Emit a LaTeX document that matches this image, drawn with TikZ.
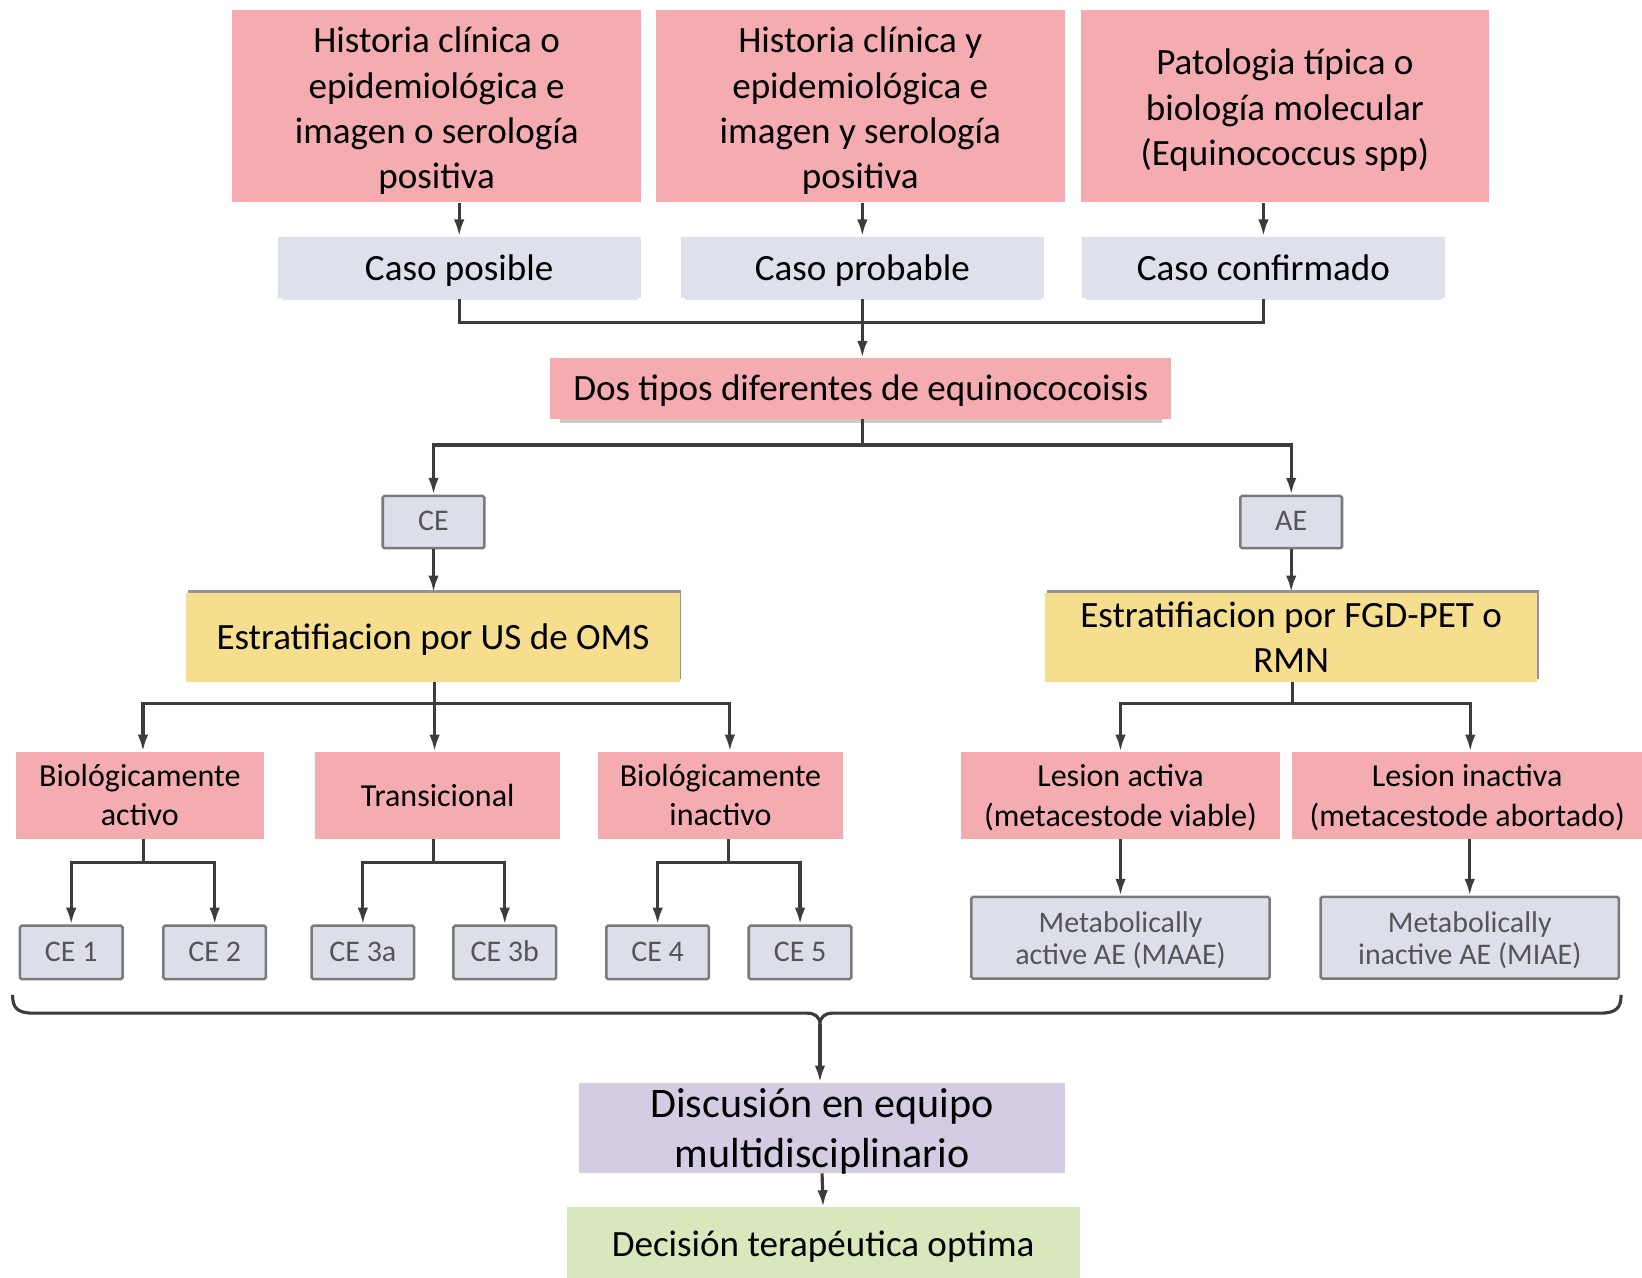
\documentclass[tikz,border=0pt]{standalone}
\usepackage{fontspec}
\setmainfont{Carlito}
\usetikzlibrary{arrows.meta,shadows}

\definecolor{rosa}{HTML}{F4ACB0}
\definecolor{celeste}{HTML}{DEE1EC}
\definecolor{amarillo}{HTML}{F5DE8E}
\definecolor{lila}{HTML}{D3CCE3}
\definecolor{verde}{HTML}{D8E7BC}
\definecolor{linea}{HTML}{3C3C3C}
\definecolor{borde}{HTML}{7A7A7A}
\definecolor{cajagris}{HTML}{DCDFEA}
\definecolor{textogris}{HTML}{555555}

% Text lines as a one-column tabular, one \baselineskip per line;
% the extra height #1 given to the first row lowers the text by half of it.
% (The strut height is measured outside the tabular, where \baselineskip is still set.)
\newlength\altopuntal
\newcommand\lineas[2]{\setlength\altopuntal{\dimexpr0.7\baselineskip+#1\relax}%
  \begin{tabular}{@{}c@{}}\rule{0pt}{\altopuntal}#2\end{tabular}}

\tikzset{
  % negative vertical padding: the box size comes from minimum height alone
  caja/.style={inner xsep=0pt, inner ysep=-30pt, text=black},
  grande/.style={font=\fontsize{17.7}{21.5}\selectfont},
  mediana/.style={font=\fontsize{15.3}{19}\selectfont},
  rosabox/.style={caja, fill=rosa},
  estadiobox/.style={rosabox, mediana,
    drop shadow={shadow xshift=0pt, shadow yshift=-1.2pt, shadow scale=0.95, fill=black!18, opacity=0.6}},
  casobox/.style={caja, grande, fill=celeste,
    drop shadow={shadow xshift=0.3pt, shadow yshift=-1pt, shadow scale=0.98, fill=black!20, opacity=0.5}},
  tipobox/.style={caja, draw=borde, line width=1.2pt, rounded corners=0.8pt, fill=cajagris,
    text=textogris, font=\fontsize{14.3}{15.5}\selectfont},
  estrbox/.style={caja, grande, fill=amarillo,
    drop shadow={shadow xshift=0.8pt, shadow yshift=1.4pt, fill=black!60, opacity=0.7}},
  linea/.style={draw=linea, line width=1.5pt},
  flecha/.style={linea, -{Latex[length=8pt,width=5pt]}},
}

\begin{document}
\begin{tikzpicture}[x=0.5pt,y=-0.5pt]
\useasboundingbox (0,0) rectangle (1568,1220);

% Criterios diagnósticos
\node[rosabox, grande, minimum width=195pt, minimum height=91.5pt] (b1) at (417,101.5)
  {\lineas{5pt}{Historia clínica o\\epidemiológica e\\imagen o serología\\positiva}};
\node[rosabox, grande, minimum width=195.5pt, minimum height=91.5pt] (b2) at (821.5,101.5)
  {\lineas{5pt}{Historia clínica y\\epidemiológica e\\imagen y serología\\positiva}};
\node[rosabox, grande, minimum width=195pt, minimum height=91.5pt] (b3) at (1227,101.5)
  {\lineas{4.5pt}{Patologia típica o\\biología molecular\\(Equinococcus spp)}};

% Clasificación del caso
\node[casobox, minimum width=173.5pt, minimum height=29.5pt] (c1) at (438.5,255.5)
  {\lineas{3.5pt}{Caso posible}};
\node[casobox, minimum width=173.5pt, minimum height=29.5pt] (c2) at (823.5,255.5)
  {\lineas{3.5pt}{Caso probable}};
\node[casobox, minimum width=173.5pt, minimum height=29.5pt] (c3) at (1206.5,255.5)
  {\lineas{3.5pt}{Caso confirmado}};

\node[rosabox, grande, minimum width=296.5pt, minimum height=29pt,
  drop shadow={shadow xshift=0pt, shadow yshift=-2.5pt, shadow scale=0.97, fill=black!35, opacity=0.6}]
  (d) at (822,371) {\lineas{2.5pt}{Dos tipos diferentes de equinococoisis}};

% Tipos
\node[tipobox, minimum width=48.5pt, minimum height=25pt] (ce) at (414,498.5) {\lineas{2pt}{CE}};
\node[tipobox, minimum width=48.5pt, minimum height=25pt] (ae) at (1233,498.5) {\lineas{2pt}{AE}};

\node[estrbox, minimum width=235.5pt, minimum height=42.5pt] (e1) at (413.5,608.5)
  {\lineas{3.5pt}{Estratifiacion por US de OMS}};
\node[estrbox, minimum width=235pt, minimum height=42.5pt] (e2) at (1233,608.5)
  {\lineas{4pt}{Estratifiacion por FGD-PET o\\RMN}};

% Estadios
\node[estadiobox, minimum width=118.5pt, minimum height=41.5pt] (p1) at (133.5,759.5)
  {\lineas{2.5pt}{Biológicamente\\activo}};
\node[estadiobox, minimum width=117pt, minimum height=41.5pt] (p2) at (418,759.5)
  {\lineas{3pt}{Transicional}};
\node[estadiobox, minimum width=117pt, minimum height=41.5pt] (p3) at (688,759.5)
  {\lineas{2.5pt}{Biológicamente\\inactivo}};
\node[estadiobox, minimum width=152pt, minimum height=41.5pt] (p4) at (1070,759.5)
  {\lineas{3pt}{Lesion activa\\(metacestode viable)}};
\node[estadiobox, minimum width=167pt, minimum height=41.5pt] (p5) at (1401,759.5)
  {\lineas{3pt}{Lesion inactiva\\(metacestode abortado)}};

% Subtipos
\node[tipobox, minimum width=49pt, minimum height=25.5pt] (ce1) at (68,909.5) {\lineas{2pt}{CE 1}};
\node[tipobox, minimum width=49pt, minimum height=25.5pt] (ce2) at (205,909.5) {\lineas{2pt}{CE 2}};
\node[tipobox, minimum width=49pt, minimum height=25.5pt] (ce3a) at (346.5,909.5) {\lineas{2pt}{CE 3a}};
\node[tipobox, minimum width=49pt, minimum height=25.5pt] (ce3b) at (482,909.5) {\lineas{2pt}{CE 3b}};
\node[tipobox, minimum width=49pt, minimum height=25.5pt] (ce4) at (628,909.5) {\lineas{2pt}{CE 4}};
\node[tipobox, minimum width=49pt, minimum height=25.5pt] (ce5) at (764,909.5) {\lineas{2pt}{CE 5}};
\node[tipobox, minimum width=142.5pt, minimum height=39pt] (m1) at (1070,895.5)
  {\lineas{4pt}{Metabolically\\active AE (MAAE)}};
\node[tipobox, minimum width=142.5pt, minimum height=39pt] (m2) at (1403.5,895.5)
  {\lineas{4pt}{Metabolically\\inactive AE (MIAE)}};

% Decisión final
\node[caja, fill=lila, minimum width=232pt, minimum height=43pt,
  font=\fontsize{20.1}{24}\selectfont] (disc) at (785,1077)
  {\lineas{4.5pt}{Discusión en equipo\\multidisciplinario}};
\node[caja, grande, fill=verde, minimum width=245pt, minimum height=33.5pt] (dec) at (786,1186.5)
  {\lineas{5pt}{Decisión terapéutica optima}};

% Conectores superiores
\draw[flecha] (b1.south -| c1.north) -- (c1.north);
\draw[flecha] (b2.south -| c2.north) -- (c2.north);
\draw[flecha] (b3.south -| c3.north) -- (c3.north);
\coordinate (jc) at (824,308);
\draw[linea] (c1.south) |- (jc) -| (c3.south);
\draw[flecha] (c2.south) -- (c2.south |- d.north);

\coordinate (jd) at (824,425);
\draw[linea] (d.south -| jd) -- (jd);
\draw[flecha] (jd) -| (ce.north);
\draw[flecha] (jd) -| (ae.north);
\draw[flecha] (ce.south) -- (ce.south |- e1.north);
\draw[flecha] (ae.south) -- (ae.south |- e2.north);

% Ramas CE
\coordinate (je1) at (415,672);
\draw[linea] (e1.south -| je1) -- (je1);
\draw[flecha] (je1) -| ([xshift=1.5pt]p1.north);
\draw[flecha] (je1) -| (p2.north -| je1);
\draw[flecha] (je1) -| ([xshift=4.5pt]p3.north);

\coordinate (jp1) at (137,824);
\draw[linea] (p1.south -| jp1) -- (jp1);
\draw[flecha] (jp1) -| (ce1.north);
\draw[flecha] (jp1) -| (ce2.north);
\coordinate (jp2) at (414,824);
\draw[linea] (p2.south -| jp2) -- (jp2);
\draw[flecha] (jp2) -| (ce3a.north);
\draw[flecha] (jp2) -| (ce3b.north);
\coordinate (jp3) at (696,824);
\draw[linea] (p3.south -| jp3) -- (jp3);
\draw[flecha] (jp3) -| (ce4.north);
\draw[flecha] (jp3) -| (ce5.north);

% Ramas AE
\coordinate (je2) at (1234,672);
\draw[linea] (e2.south -| je2) -- (je2);
\draw[flecha] (je2) -| (p4.north);
\draw[flecha] (je2) -| ([xshift=1.5pt]p5.north);
\draw[flecha] (p4.south) -- (m1.north);
\draw[flecha] (p5.south -| m2.north) -- (m2.north);

% Llave que agrupa todos los estadios
\coordinate (llave) at (783,978);
\draw[linea] (12,950) .. controls (12,962) and (16,967.5) .. (32,967.5) -- (771,967.5)
  .. controls (778,967.5) and (783,971) .. (llave)
  .. controls (783,971) and (788,967.5) .. (795,967.5) -- (1528,967.5)
  .. controls (1544,967.5) and (1548,962) .. (1548,950);
\draw[flecha] (llave) -- (llave |- disc.north);
\draw[flecha] (disc.south) -- (dec.north);
\end{tikzpicture}
\end{document}
